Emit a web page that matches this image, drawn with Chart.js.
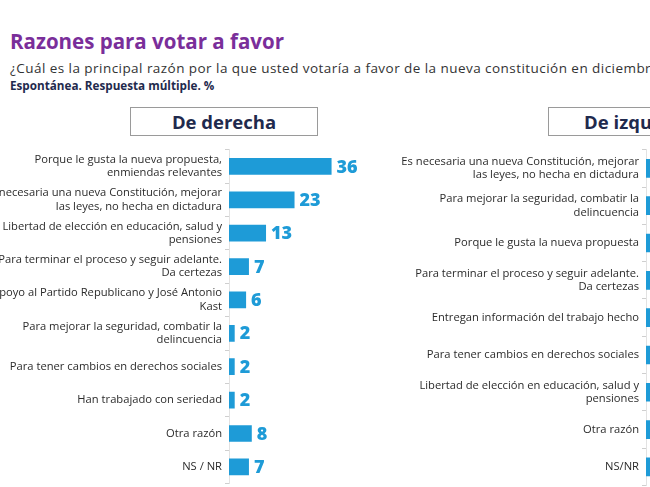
<!DOCTYPE html>
<html>
<head>
<meta charset="utf-8">
<script src="https://cdn.jsdelivr.net/npm/chart.js@4.4.1/dist/chart.umd.min.js"></script>
<style>
  html, body { margin: 0; padding: 0; background: #fff; overflow: hidden; width: 650px; height: 487px; }
  body { position: relative; font-family: "Open Sans", sans-serif; }
  #title { position: absolute; left: 10px; top: 27px; font-size: 20.5px; font-weight: 700; color: #7a2e9a; white-space: nowrap; }
  #sub1 { position: absolute; left: 10px; top: 59px; font-size: 13.5px; letter-spacing: 0.45px; color: #333; white-space: nowrap; }
  #sub2 { position: absolute; left: 10px; top: 77px; font-size: 11.7px; font-weight: 700; color: #1f2a4d; white-space: nowrap; }
  .box { position: absolute; top: 107px; width: 186px; height: 27px; border: 1px solid #9a9a9a; text-align: center;
         font-size: 18.5px; font-weight: 700; color: #1f2a4d; line-height: 27px; white-space: nowrap; }
  canvas { position: absolute; }
</style>
</head>
<body>
<div id="title">Razones para votar a favor</div>
<div id="sub1">¿Cuál es la principal razón por la que usted votaría a favor de la nueva constitución en diciembre?</div>
<div id="sub2">Espontánea. Respuesta múltiple. %</div>
<div class="box" style="left:130px;">De derecha</div>
<div class="box" style="left:548px;">De izquierda</div>
<canvas id="chartDerecha" width="420" height="360" style="left:-40px; top:140px;"></canvas>
<canvas id="chartIzquierda" width="420" height="362" style="left:400px; top:140px;"></canvas>
<script>
const catsDerecha = [
  ['Porque le gusta la nueva propuesta,', 'enmiendas relevantes'],
  ['Es necesaria una nueva Constitución, mejorar', 'las leyes, no hecha en dictadura'],
  ['Libertad de elección en educación, salud y', 'pensiones'],
  ['Para terminar el proceso y seguir adelante.', 'Da certezas'],
  ['Apoyo al Partido Republicano y José Antonio', 'Kast'],
  ['Para mejorar la seguridad, combatir la', 'delincuencia'],
  'Para tener cambios en derechos sociales',
  'Han trabajado con seriedad',
  'Otra razón',
  'NS / NR'
];
const valsDerecha = [36, 23, 13, 7, 6, 2, 2, 2, 8, 7];

const catsIzquierda = [
  ['Es necesaria una nueva Constitución, mejorar', 'las leyes, no hecha en dictadura'],
  ['Para mejorar la seguridad, combatir la', 'delincuencia'],
  'Porque le gusta la nueva propuesta',
  ['Para terminar el proceso y seguir adelante.', 'Da certezas'],
  'Entregan información del trabajo hecho',
  'Para tener cambios en derechos sociales',
  ['Libertad de elección en educación, salud y', 'pensiones'],
  'Otra razón',
  'NS/NR'
];
const valsIzquierda = [30, 15, 12, 10, 6, 5, 4, 9, 8];

const barColor = '#1e9bd7';

// draws the bold value next to each bar end
const valueLabels = {
  id: 'valueLabels',
  afterDatasetsDraw(chart) {
    const ctx = chart.ctx;
    const meta = chart.getDatasetMeta(0);
    ctx.save();
    ctx.font = '800 18px "Open Sans", sans-serif';
    ctx.fillStyle = barColor;
    ctx.textAlign = 'left';
    ctx.textBaseline = 'middle';
    meta.data.forEach(function(bar, i) {
      ctx.fillText(chart.data.datasets[0].data[i], bar.x + 5, bar.y + 1);
    });
    ctx.restore();
  }
};

function makeChart(id, cats, vals, axisWidth, padTop, xMax) {
  return new Chart(document.getElementById(id).getContext('2d'), {
    type: 'bar',
    data: {
      labels: cats,
      datasets: [{
        data: vals,
        backgroundColor: barColor,
        barPercentage: 0.5,
        categoryPercentage: 1.0
      }]
    },
    options: {
      indexAxis: 'y',
      responsive: false,
      animation: false,
      layout: { padding: { top: padTop, bottom: 4, left: 0, right: 0 } },
      plugins: { legend: { display: false }, tooltip: { enabled: false } },
      scales: {
        x: { display: false, min: 0, max: xMax },
        y: {
          afterFit: function(scale) { scale.width = axisWidth; },
          grid: { drawOnChartArea: false, tickLength: 4, color: '#cfcfcf' },
          border: { color: '#e2e2e2' },
          ticks: {
            padding: 3,
            color: '#2b2b2b',
            font: { family: '"Open Sans", sans-serif', size: 11.2 }
          }
        }
      }
    },
    plugins: [valueLabels]
  });
}

let chartDerecha = makeChart('chartDerecha', catsDerecha, valsDerecha, 269, 9, 53);
let chartIzquierda = makeChart('chartIzquierda', catsIzquierda, valsIzquierda, 246, 8, 50);
</script>
</body>
</html>
